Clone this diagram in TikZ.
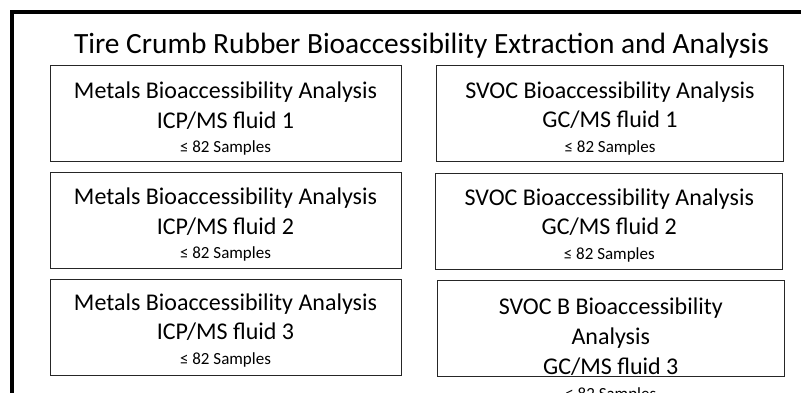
\documentclass[tikz,border=0pt]{standalone}
\usepackage{fontspec}
\setmainfont{Carlito}
\usetikzlibrary{positioning}

\begin{document}
\begin{tikzpicture}[x=1pt, y=-1pt,
    box/.style={draw=black!85, line width=0.8pt, minimum width=348pt, minimum height=96pt, inner sep=0pt},
    boxtext/.style={anchor=north, align=center, inner sep=0pt, font=\fontsize{24}{29.5}\selectfont}]
    \useasboundingbox (0,0) rectangle (801,393);
    \clip (0,0) rectangle (801,393);

    % Frame
    \draw[line width=4pt] (12,420) -- (12,12) -- (830,12);

    % Title
    \node[anchor=base, inner sep=0pt, font=\fontsize{29.4}{34}\selectfont] (title) at (421.5,53.3) {Tire Crumb Rubber Bioaccessibility Extraction and Analysis};

    % Metals, ICP/MS
    \node[box, minimum width=351pt] (met1) at (225.5,113) {};
    \node[boxtext, below=17.5pt of met1.north] (met1txt) {Metals Bioaccessibility Analysis\\ICP/MS fluid 1\\[-5pt]{\fontsize{17}{20}\selectfont ≤ 82 Samples}};
    \node[box, minimum width=351pt] (met2) at (225.5,220) {};
    \node[boxtext, below=16.5pt of met2.north] (met2txt) {Metals Bioaccessibility Analysis\\ICP/MS fluid 2\\[-5pt]{\fontsize{17}{20}\selectfont ≤ 82 Samples}};
    \node[box, minimum width=351pt] (met3) at (225.5,327) {};
    \node[boxtext, below=15pt of met3.north] (met3txt) {Metals Bioaccessibility Analysis\\ICP/MS fluid 3\\[-5pt]{\fontsize{17}{20}\selectfont ≤ 82 Samples}};

    % SVOC, GC/MS
    \node[box, minimum width=347pt] (svoc1) at (610,113.3) {};
    \node[boxtext, below=16.5pt of svoc1.north] (svoc1txt) {SVOC Bioaccessibility Analysis\\GC/MS fluid 1\\[-5pt]{\fontsize{17}{20}\selectfont ≤ 82 Samples}};
    \node[box, minimum width=347pt] (svoc2) at (609.3,221) {};
    \node[boxtext, below=16pt of svoc2.north] (svoc2txt) {SVOC Bioaccessibility Analysis\\GC/MS fluid 2\\[-5pt]{\fontsize{17}{20}\selectfont ≤ 82 Samples}};
    \node[box, minimum width=347pt] (svoc3) at (610.8,328.8) {};
    \node[boxtext, font=\fontsize{24}{30.3}\selectfont, below=17pt of svoc3.north] (svoc3txt) {SVOC B Bioaccessibility\\Analysis\\GC/MS fluid 3\\[-6pt]{\fontsize{17}{20}\selectfont ≤ 82 Samples}};
\end{tikzpicture}
\end{document}
